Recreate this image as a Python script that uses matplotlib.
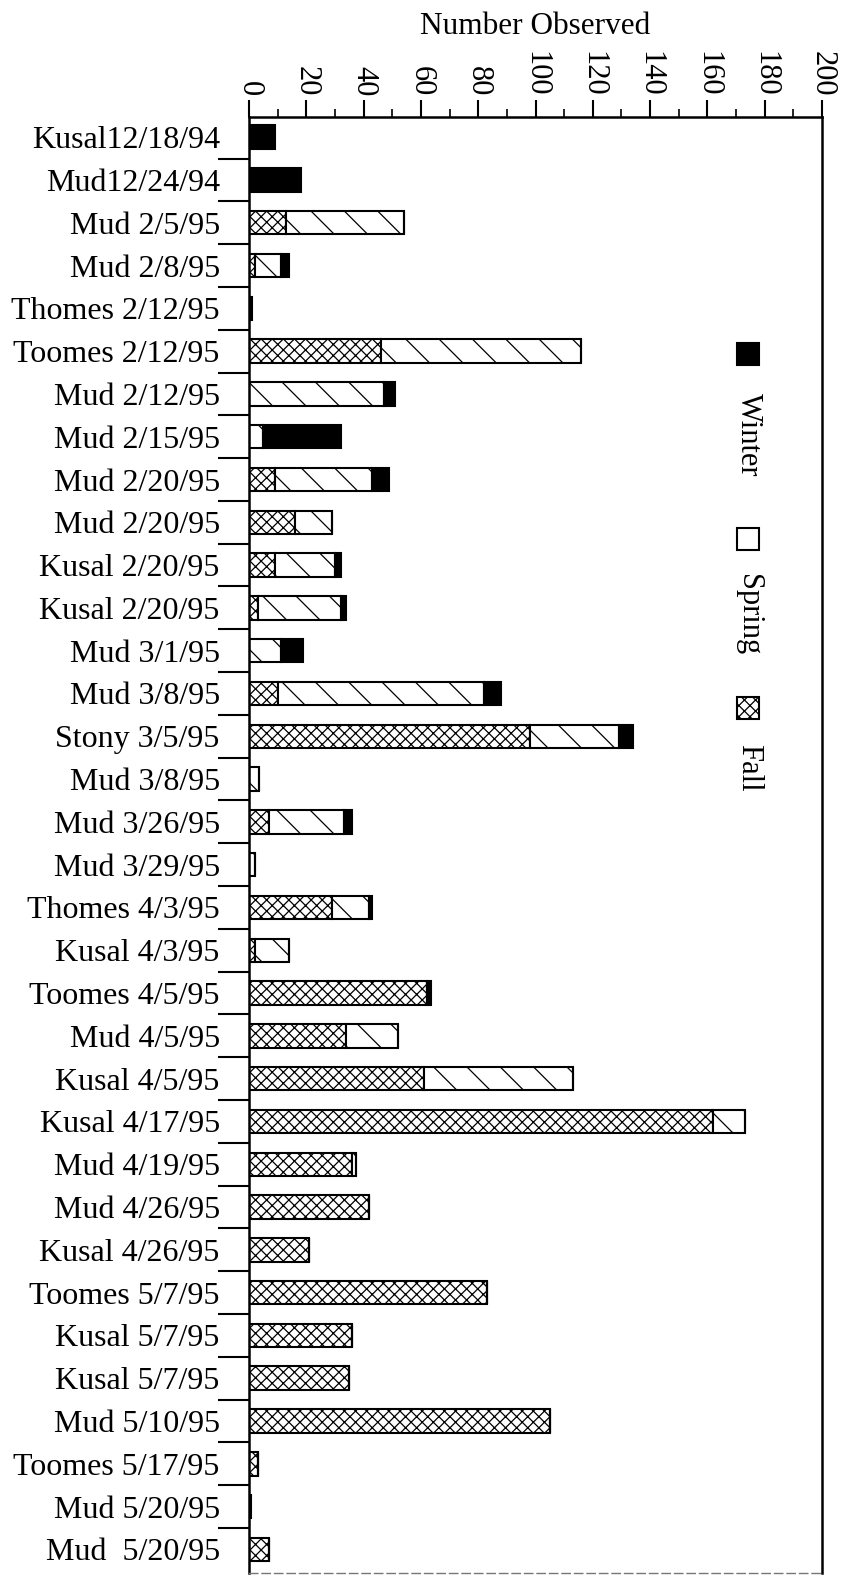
import matplotlib
matplotlib.use("Agg")
import matplotlib.pyplot as plt
import numpy as np
from matplotlib.patches import Rectangle
from matplotlib.ticker import MultipleLocator

categories = ["Kusal12/18/94", "Mud12/24/94", "Mud 2/5/95", "Mud 2/8/95", "Thomes 2/12/95",
              "Toomes 2/12/95", "Mud 2/12/95", "Mud 2/15/95", "Mud 2/20/95", "Mud 2/20/95",
              "Kusal 2/20/95", "Kusal 2/20/95", "Mud 3/1/95", "Mud 3/8/95", "Stony 3/5/95",
              "Mud 3/8/95", "Mud 3/26/95", "Mud 3/29/95", "Thomes 4/3/95", "Kusal 4/3/95",
              "Toomes 4/5/95", "Mud 4/5/95", "Kusal 4/5/95", "Kusal 4/17/95", "Mud 4/19/95",
              "Mud 4/26/95", "Kusal 4/26/95", "Toomes 5/7/95", "Kusal 5/7/95", "Kusal 5/7/95",
              "Mud 5/10/95", "Toomes 5/17/95", "Mud 5/20/95", "Mud  5/20/95"]
fall   = [0, 0, 13, 2, 0, 46, 0, 0, 9, 16, 9, 3, 0, 10, 98, 0, 7, 0, 29, 2,
          62, 34, 61, 162, 36, 42, 21, 83, 36, 35, 105, 3, 0, 7]
spring = [0, 0, 41, 9, 0, 70, 47, 5, 34, 13, 21, 29, 11, 72, 31, 3.5, 26, 2, 13, 12,
          0, 18, 52, 11, 1.5, 0, 0, 0, 0, 0, 0, 0, 0, 0]
winter = [9, 18, 0, 3, 1, 0, 4, 27, 6, 0, 2, 2, 8, 6, 5, 0, 3, 0, 1, 0,
          1.5, 0, 0, 0, 0, 0, 0, 0, 0, 0, 0, 0, 0.8, 0]
series_names = ["Winter", "Spring", "Fall"]
x_ticks = list(range(0, 201, 20))

plt.rcParams['font.family'] = ['Liberation Serif', 'DejaVu Serif']
plt.rcParams['hatch.linewidth'] = 0.9

fig = plt.figure(figsize=(8.47, 15.77), dpi=100)
ax = fig.add_axes([249/847, 1-1573/1577, (822-249)/847, (1573-117)/1577])

y = np.arange(len(categories))
f = np.array(fall); s = np.array(spring); w = np.array(winter)
h = 0.55
ax.barh(y, f, height=h, color='white', edgecolor='black', hatch='xxx', linewidth=1.5)
ax.barh(y, s, left=f, height=h, color='white', edgecolor='black', hatch='\\', linewidth=1.5)
ax.barh(y, w, left=f+s, height=h, color='black', edgecolor='black', linewidth=1.5)

ax.set_xlim(0, 200)
ax.set_ylim(len(categories)-0.45, -0.47)

ax.xaxis.tick_top()
ax.xaxis.set_label_position('top')
ax.set_xticks(x_ticks)
ax.set_xticklabels([str(t) for t in x_ticks], rotation=-90, fontsize=22)
ax.xaxis.set_minor_locator(MultipleLocator(10))
ax.tick_params(axis='x', which='major', direction='out', length=12, width=1.5, pad=3)
ax.tick_params(axis='x', which='minor', direction='out', length=6, width=1.2)
ax.set_xlabel("Number Observed", fontsize=22.5, labelpad=12)

ax.set_yticks(y)
ax.set_yticklabels(categories, fontsize=23)
ax.set_yticks(np.arange(len(categories)-1)+0.5, minor=True)
ax.tick_params(axis='y', which='major', length=0, pad=21)
ax.tick_params(axis='y', which='minor', direction='out', length=22, width=1.5)

for sp in ['top', 'left', 'right']:
    ax.spines[sp].set_linewidth(1.8)
ax.spines['bottom'].set_linewidth(1.0)
ax.spines['bottom'].set_linestyle((0, (6, 3)))
ax.spines['bottom'].set_color('#777777')

# legend (vertical, rotated text)
sq_w, sq_h = 22/573, 22/1456
leg = [(0.837, 0.782, dict(facecolor='black')),
       (0.710, 0.658, dict(facecolor='white')),
       (0.594, 0.553, dict(facecolor='white', hatch='xxx'))]
for (ysq, ytx, kw), nm in zip(leg, series_names):
    ax.add_patch(Rectangle((0.871 - sq_w/2, ysq - sq_h/2), sq_w, sq_h, transform=ax.transAxes,
                           edgecolor='black', linewidth=1.5, clip_on=False, **kw))
    ax.text(0.871, ytx, nm, transform=ax.transAxes, rotation=-90, ha='center', va='center',
            fontsize=22)

fig.savefig("out.png", dpi=100)
